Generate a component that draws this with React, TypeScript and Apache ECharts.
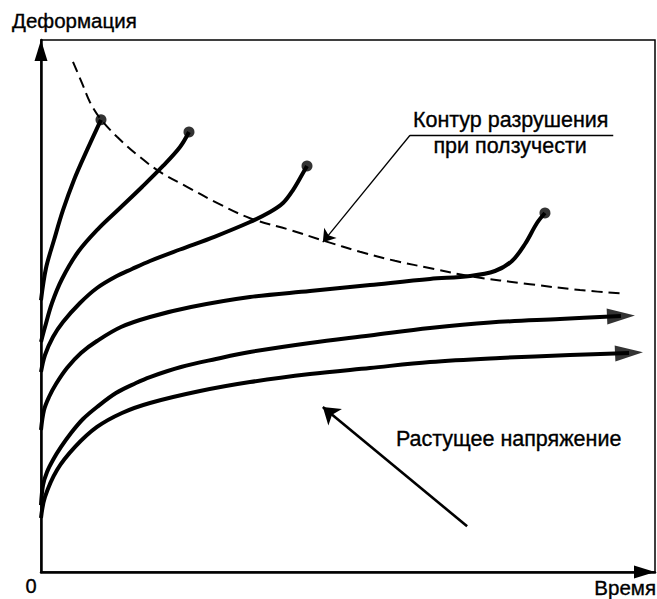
import React, { useEffect, useRef } from "react";
import * as echarts from "echarts";

// Creep curves: [time, strain] in relative units (0..100)
const curve1: number[][] = [[0, 51.1], [0.81, 57.1], [2.12, 62.4], [3.58, 68.0], [5.37, 73.7], [7.49, 79.3], [9.77, 85.0]];
const curve2: number[][] = [[0, 43.23], [0.65, 46.05], [1.79, 50.56], [3.42, 55.08], [6.03, 60.15], [9.28, 64.47], [12.87, 68.42], [16.45, 72.37], [19.87, 76.32], [22.64, 79.89], [24.1, 82.71]];
const curve3: number[][] = [[0, 37.59], [0.65, 40.79], [1.95, 44.17], [3.58, 46.99], [6.35, 50.56], [9.12, 53.38], [12.05, 55.45], [14.82, 56.95], [17.75, 58.46], [22.64, 60.62], [28.34, 63.06], [34.04, 65.79], [37.3, 67.67], [39.41, 69.36], [41.04, 71.8], [42.67, 75.0], [43.32, 76.32]];
const curve4: number[][] = [[0, 26.69], [0.49, 30.45], [1.3, 32.89], [2.44, 35.34], [4.23, 38.35], [6.51, 41.17], [9.12, 43.42], [13.03, 46.05], [17.75, 47.93], [24.43, 49.81], [34.04, 51.69], [43.81, 52.82], [53.58, 53.95], [63.36, 55.08], [69.87, 55.64], [73.94, 56.58], [76.71, 58.46], [78.83, 61.65], [80.78, 65.6], [82.08, 67.48]];
const curve5: number[][] = [[0, 12.59], [0.33, 16.35], [0.98, 18.8], [1.95, 21.05], [3.26, 23.5], [4.89, 26.13], [6.84, 28.76], [9.12, 31.02], [12.21, 33.65], [15.47, 35.53], [17.75, 36.65], [22.8, 38.53], [28.5, 40.04], [34.04, 41.35], [43.81, 43.05], [53.58, 44.45], [63.36, 45.86], [73.13, 46.9], [84.53, 47.56], [94.46, 48.12]];
const curve6: number[][] = [[0, 10.15], [0.65, 14.1], [2.61, 19.17], [5.54, 23.5], [9.12, 27.26], [13.19, 29.89], [17.75, 31.77], [25.9, 34.02], [34.04, 35.71], [43.81, 37.22], [53.58, 38.35], [63.36, 39.47], [74.76, 40.23], [86.16, 40.79], [95.77, 41.17]];

// Creep rupture contour (dashed)
const ruptureContour: number[][] = [[5.21, 95.9], [6.68, 91.9], [7.98, 88.3], [9.61, 85.3], [12.38, 81.8], [16.12, 78.0], [19.38, 75.2], [23.78, 72.4], [28.66, 69.4], [34.04, 66.5], [40.55, 64.3], [46.25, 62.2], [51.95, 60.2], [57.65, 58.5], [63.84, 57.0], [69.87, 55.6], [79.64, 54.1], [87.79, 53.0], [95.11, 52.3]];

// Annotation anchors
const leaderUnderline: number[][] = [[60.1, 82.1], [93.2, 82.1]];
const leaderArrow: number[][] = [[60.1, 82.1], [45.9, 62.0]];
const stressArrow: number[][] = [[69.4, 8.6], [45.9, 31.0]];

const labelY = "Деформация";
const labelX = "Время";
const labelOrigin = "0";
const ruptureLine1 = "Контур разрушения";
const ruptureLine2 = "при ползучести";
const stressLabel = "Растущее напряжение";

const FONT = "'Liberation Sans', Arial, Helvetica, sans-serif";

export default function App() {
  const ref = useRef<HTMLDivElement>(null);
  useEffect(() => {
    if (!ref.current) return;
    const chart = echarts.init(ref.current, null, { renderer: "svg" });
    const curves = [curve1, curve2, curve3, curve4, curve5, curve6];
    const ruptured = [curve1, curve2, curve3, curve4];
    const running = [curve5, curve6];
    const curveSeries = curves.map((c) => ({
      type: "line",
      data: c,
      smooth: 0.35,
      symbol: "none",
      clip: false,
      lineStyle: { color: "#000", width: 4 },
      z: 3,
    }));
    const axisCommon = {
      type: "value",
      min: 0,
      max: 100,
      axisTick: { show: false },
      axisLabel: { show: false },
      splitLine: { show: false },
      axisLine: {
        show: true,
        onZero: false,
        symbol: ["none", "triangle"],
        symbolSize: [13, 21],
        symbolOffset: [0, -10.5],
        lineStyle: { color: "#000", width: 2.5 },
      },
    };
    chart.setOption({
      animation: false,
      backgroundColor: "#fff",
      grid: { left: 41, right: 2, top: 40, bottom: 27, show: true, borderColor: "#000", borderWidth: 1.5, backgroundColor: "transparent" },
      xAxis: { ...axisCommon },
      yAxis: { ...axisCommon },
      series: [
        ...curveSeries,
        {
          type: "line",
          data: ruptureContour,
          smooth: 0.35,
          symbol: "none",
          clip: false,
          lineStyle: { color: "#000", width: 2, type: [11, 6] },
          z: 2,
          markLine: {
            silent: true,
            animation: false,
            label: { show: false },
            data: [
              [
                { coord: leaderUnderline[0], symbol: "none", lineStyle: { type: "solid", color: "#000", width: 1.3 } },
                { coord: leaderUnderline[1], symbol: "none" },
              ],
              [
                { coord: leaderArrow[0], symbol: "none", lineStyle: { type: "solid", color: "#000", width: 1.3 } },
                { coord: leaderArrow[1], symbol: "arrow", symbolSize: 12 },
              ],
              [
                { coord: stressArrow[0], symbol: "none", lineStyle: { type: "solid", color: "#000", width: 2.6 } },
                { coord: stressArrow[1], symbol: "arrow", symbolSize: 16 },
              ],
            ],
          },
        },
        {
          type: "scatter",
          data: ruptured.map((c) => c[c.length - 1]),
          symbol: "circle",
          symbolSize: 11,
          itemStyle: { color: "#000" },
          clip: false,
          z: 4,
        },
        {
          type: "scatter",
          data: running.map((c) => c[c.length - 1]),
          symbol: "triangle",
          symbolSize: [16, 28],
          symbolRotate: -87.5,
          itemStyle: { color: "#000" },
          clip: false,
          z: 4,
        },
      ],
    });

    const px = (p: number[]) => chart.convertToPixel({ gridIndex: 0 }, p) as number[];
    const a1 = px([76.5, 85.0]);
    const a2 = px([76.4, 80.1]);
    const a3 = px([57.8, 25.0]);
    const textStyle = (t: string, align: string, fontSize = 21) => ({
      text: t,
      font: `${fontSize}px ${FONT}`,
      fill: "#000",
      stroke: "#000",
      lineWidth: 0.35,
      align,
      verticalAlign: "middle",
    });
    chart.setOption({
      graphic: [
        { type: "text", x: 12, y: 20, style: textStyle(labelY, "left", 20.5) },
        { type: "text", x: 31, y: 586, style: textStyle(labelOrigin, "center", 20) },
        { type: "text", x: 656, y: 587, style: textStyle(labelX, "right", 20.5) },
        { type: "text", x: a1[0], y: a1[1], style: textStyle(ruptureLine1, "center", 21.5) },
        { type: "text", x: a2[0], y: a2[1], style: textStyle(ruptureLine2, "center", 21.5) },
        { type: "text", x: a3[0], y: a3[1], style: textStyle(stressLabel, "left", 21.5) },
      ],
    });
    return () => chart.dispose();
  }, []);
  return <div ref={ref} style={{ width: 657, height: 599, position: "absolute", left: 0, top: 0 }} />;
}
